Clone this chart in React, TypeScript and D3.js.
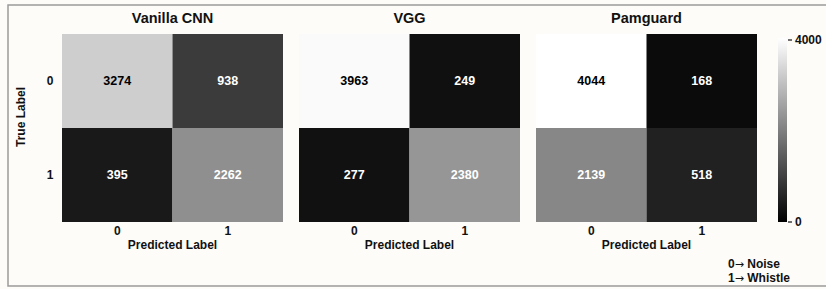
import React from 'react';
import * as d3 from 'd3';

// confusion matrices, rows = true label, cols = predicted label
const categories = ['0', '1'];
const models = ['Vanilla CNN', 'VGG', 'Pamguard'];
const vanillaCnn = [
  [3274, 938],
  [395, 2262],
];
const vgg = [
  [3963, 249],
  [277, 2380],
];
const pamguard = [
  [4044, 168],
  [2139, 518],
];
const matrices = [vanillaCnn, vgg, pamguard];
const colorbarTicks = [0, 4000];
const legendLabels = ['0', '1'];
const legendNames = ['Noise', 'Whistle'];

const W = 826;
const H = 289;
const FONT = '"Liberation Sans", Arial, sans-serif';

const top = 34;
const bottom = 222;

const vmax = d3.max(matrices.flat(2)) as number;
const color = d3.scaleLinear<string>().domain([0, vmax]).range(['#000000', '#ffffff']);

// seaborn-like annotation colour
const textColor = (v: number) => {
  const c = d3.rgb(color(v));
  const lin = (u: number) => {
    const s = u / 255;
    return s <= 0.03928 ? s / 12.92 : Math.pow((s + 0.055) / 1.055, 2.4);
  };
  const lum = 0.2126 * lin(c.r) + 0.7152 * lin(c.g) + 0.0722 * lin(c.b);
  return lum > 0.408 ? '#000' : '#fff';
};

const panelX = d3.scaleBand<string>().domain(models).range([62, 757]).paddingInner(0.0675);
const yBand = d3.scaleBand<string>().domain(categories).range([top, bottom]);

const cbX = 778;
const cbW = 9;
const cbY = d3.scaleLinear().domain([0, vmax]).range([222, 38]);

export default function App() {
  const bw = panelX.bandwidth();
  return (
    <svg width={W} height={H} style={{ position: 'absolute', left: 0, top: 0 }} fontFamily={FONT} fontWeight="bold">
      <defs>
        <linearGradient id="cb" x1="0" y1="1" x2="0" y2="0">
          {d3.range(0, 1.0001, 0.1).map(t => (
            <stop key={t} offset={t} stopColor={color(t * vmax)} />
          ))}
        </linearGradient>
      </defs>
      <rect x={0} y={0} width={W} height={H} fill="#fdfcf8" />
      <rect x={8} y={5} width={W} height={281} fill="none" stroke="#9a9a9a" strokeWidth={1.5} />

      {models.map((m, mi) => {
        const x0 = panelX(m) as number;
        const xBand = d3.scaleBand<string>().domain(categories).range([x0, x0 + bw]);
        const mat = matrices[mi];
        return (
          <g key={m}>
            <text x={x0 + bw / 2} y={18} textAnchor="middle" dominantBaseline="central" fontSize={14.5} fill="#111">
              {m}
            </text>
            {categories.map((r, ri) =>
              categories.map((c, ci) => {
                const v = mat[ri][ci];
                const cx = xBand(c) as number;
                const cy = yBand(r) as number;
                return (
                  <g key={r + c}>
                    <rect x={cx} y={cy} width={xBand.bandwidth()} height={yBand.bandwidth()} fill={color(v)} />
                    <text
                      x={cx + xBand.bandwidth() / 2}
                      y={cy + yBand.bandwidth() / 2}
                      textAnchor="middle"
                      dominantBaseline="central"
                      fontSize={12.5}
                      fill={textColor(v)}
                    >
                      {v}
                    </text>
                  </g>
                );
              })
            )}
            {categories.map(c => (
              <text
                key={c}
                x={(xBand(c) as number) + xBand.bandwidth() / 2}
                y={231}
                textAnchor="middle"
                dominantBaseline="central"
                fontSize={12}
                fill="#111"
              >
                {c}
              </text>
            ))}
            <text x={x0 + bw / 2} y={245} textAnchor="middle" dominantBaseline="central" fontSize={12} fill="#111">
              Predicted Label
            </text>
            {mi === 0 &&
              categories.map(r => (
                <text
                  key={r}
                  x={50}
                  y={(yBand(r) as number) + yBand.bandwidth() / 2}
                  textAnchor="middle"
                  dominantBaseline="central"
                  fontSize={12}
                  fill="#111"
                >
                  {r}
                </text>
              ))}
          </g>
        );
      })}

      <text
        transform={`translate(21,117) rotate(-90)`}
        textAnchor="middle"
        dominantBaseline="central"
        fontSize={12}
        fill="#111"
      >
        True Label
      </text>

      <rect x={cbX} y={cbY(vmax)} width={cbW} height={cbY(0) - cbY(vmax)} fill="url(#cb)" />
      {colorbarTicks.map(t => (
        <g key={t}>
          <line x1={cbX + cbW + 1} x2={cbX + cbW + 5} y1={cbY(t)} y2={cbY(t)} stroke="#111" strokeWidth={1.2} />
          <text x={cbX + cbW + 8} y={cbY(t)} dominantBaseline="central" fontSize={12} fill="#111">
            {t}
          </text>
        </g>
      ))}

      {legendLabels.map((l, i) => (
        <text key={l} x={728} y={264 + i * 14} dominantBaseline="central" fontSize={12} fill="#111">
          {l}
          <tspan fontFamily='"DejaVu Sans", sans-serif' fontWeight="normal" fontSize={11}>{'\u2192'}</tspan>
          {' ' + legendNames[i]}
        </text>
      ))}
    </svg>
  );
}
